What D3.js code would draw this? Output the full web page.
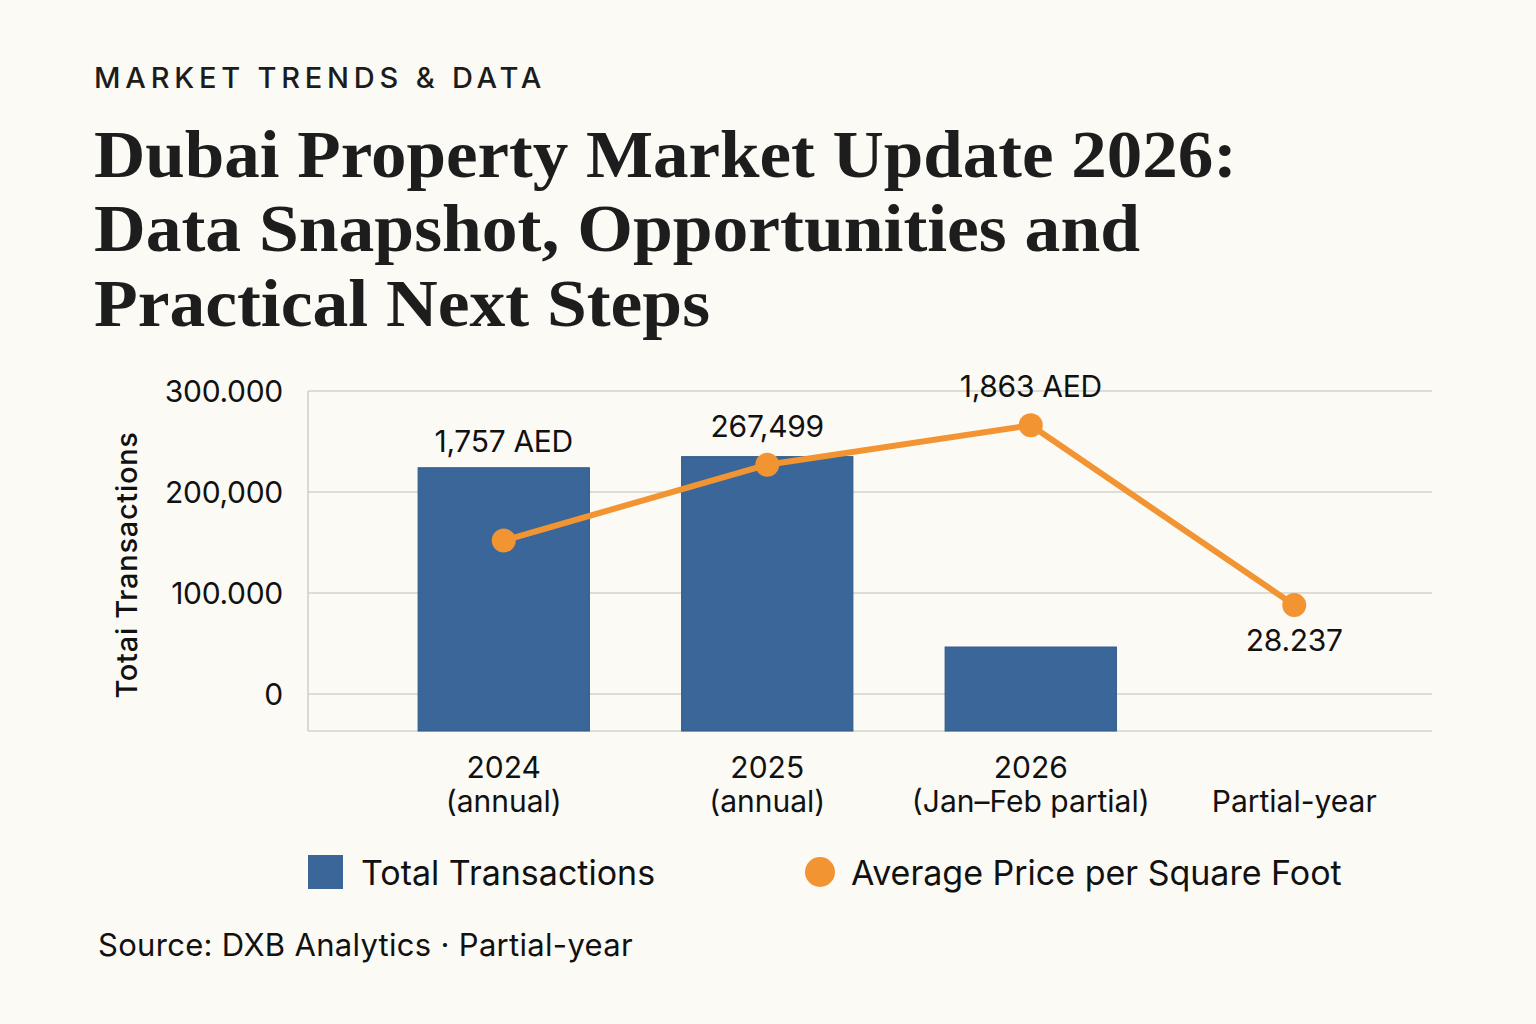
<!DOCTYPE html>
<html>
<head>
<meta charset="utf-8">
<script src="https://cdn.jsdelivr.net/npm/d3@7"></script>
<style>
  html, body { margin: 0; padding: 0; background: #fbfaf5; }
  svg { display: block; }
</style>
</head>
<body>
<script>
// chart values
const categories = ["2024", "2025", "2026", "Partial-year"];
const categoryLines = [["2024", "(annual)"], ["2025", "(annual)"], ["2026", "(Jan\u2013Feb partial)"], ["", "Partial-year"]];
const transactions = [224000, 235000, 46500, null];
const pricePlotted = [152000, 227000, 266000, 88000];
const pointLabels = ["1,757 AED", "267,499", "1,863 AED", "28.237"];
const yTicks = [0, 100000, 200000, 300000];
const yTickLabels = ["0", "100.000", "200,000", "300.000"];

const width = 1536;
const height = 1024;
const sans = "Inter, 'Noto Sans', sans-serif";
const serif = "'Liberation Serif', 'DejaVu Serif', serif";
const blue = "#3a6699";
const orange = "#f29431";

const svg = d3.select("body").append("svg")
    .attr("width", width)
    .attr("height", height);

svg.append("rect").attr("width", width).attr("height", height).attr("fill", "#fbfaf5");

// heading
svg.append("text")
    .attr("x", 94).attr("y", 88)
    .attr("font-family", sans).attr("font-size", 29).attr("font-weight", 500)
    .attr("letter-spacing", 4.8).attr("fill", "#1c1c1c")
    .text("MARKET TRENDS & DATA");

const titleLines = [
    ["Dubai Property Market Update 2026:", 177, 1143],
    ["Data Snapshot, Opportunities and", 251, 1046],
    ["Practical Next Steps", 326, 616]
];
titleLines.forEach(([txt, y, w]) => {
    svg.append("text")
        .attr("x", 94).attr("y", y)
        .attr("font-family", serif).attr("font-size", 68).attr("font-weight", 700)
        .attr("fill", "#1d1d1d")
        .attr("textLength", w).attr("lengthAdjust", "spacingAndGlyphs")
        .text(txt);
});

// plot area
const plotLeft = 308, plotRight = 1432, plotTop = 391, plotBottom = 731;

const x = d3.scaleBand()
    .domain(categories)
    .range([372, 1426])
    .paddingInner(0.35)
    .paddingOuter(0.175);

const y = d3.scaleLinear()
    .domain([0, 300000])
    .range([694, plotTop]);

// gridlines
svg.append("g")
    .selectAll("line")
    .data(yTicks)
    .join("line")
    .attr("x1", plotLeft).attr("x2", plotRight)
    .attr("y1", d => y(d)).attr("y2", d => y(d))
    .attr("stroke", "#d3d2cd").attr("stroke-width", 1.5);

svg.append("line")
    .attr("x1", plotLeft).attr("x2", plotRight)
    .attr("y1", plotBottom).attr("y2", plotBottom)
    .attr("stroke", "#d3d2cd").attr("stroke-width", 1.5);

svg.append("line")
    .attr("x1", plotLeft).attr("x2", plotLeft)
    .attr("y1", plotTop).attr("y2", plotBottom)
    .attr("stroke", "#cfcec9").attr("stroke-width", 1.5);

// y axis labels
svg.append("g")
    .selectAll("text")
    .data(yTicks)
    .join("text")
    .attr("x", 283)
    .attr("y", d => y(d) + 11)
    .attr("text-anchor", "end")
    .attr("font-family", sans).attr("font-size", 30)
    .attr("letter-spacing", -0.3)
    .attr("fill", "#111")
    .text((d, i) => yTickLabels[i]);

svg.append("text")
    .attr("transform", `translate(137, 565) rotate(-90)`)
    .attr("text-anchor", "middle")
    .attr("font-family", sans).attr("font-size", 29).attr("font-weight", 500)
    .attr("letter-spacing", 0.7)
    .attr("fill", "#111")
    .text("Totai Transactions");

// bars
svg.append("g")
    .selectAll("rect")
    .data(categories.map((c, i) => ({ c, v: transactions[i] })).filter(d => d.v != null))
    .join("rect")
    .attr("x", d => x(d.c))
    .attr("width", x.bandwidth())
    .attr("y", d => y(d.v))
    .attr("height", d => plotBottom - y(d.v))
    .attr("fill", blue)
    .attr("stroke", "#2f5886").attr("stroke-width", 1);

// price line
const pts = categories.map((c, i) => [x(c) + x.bandwidth() / 2, y(pricePlotted[i])]);
svg.append("path")
    .attr("d", d3.line()(pts))
    .attr("fill", "none")
    .attr("stroke", orange)
    .attr("stroke-width", 6)
    .attr("stroke-linejoin", "round");

svg.append("g")
    .selectAll("circle")
    .data(pts)
    .join("circle")
    .attr("cx", d => d[0]).attr("cy", d => d[1])
    .attr("r", 12)
    .attr("fill", orange);

// point labels
const labelOffset = [-16, -20, -28, 46];
svg.append("g")
    .selectAll("text")
    .data(categories)
    .join("text")
    .attr("x", (c, i) => pts[i][0])
    .attr("y", (c, i) => {
        const top = i === 3 ? pts[i][1] : Math.min(pts[i][1], transactions[i] != null ? y(transactions[i]) : Infinity);
        return top + labelOffset[i];
    })
    .attr("text-anchor", "middle")
    .attr("font-family", sans).attr("font-size", 30)
    .attr("letter-spacing", -0.3)
    .attr("fill", "#111")
    .text((c, i) => pointLabels[i]);

// x axis labels
const xl = svg.append("g");
categories.forEach((c, i) => {
    categoryLines[i].forEach((line, j) => {
        xl.append("text")
            .attr("x", x(c) + x.bandwidth() / 2)
            .attr("y", 778 + j * 34)
            .attr("text-anchor", "middle")
            .attr("font-family", sans).attr("font-size", 30)
            .attr("letter-spacing", 0)
            .attr("fill", "#111")
            .text(line);
    });
});

// legend
svg.append("rect")
    .attr("x", 308).attr("y", 855).attr("width", 35).attr("height", 34)
    .attr("fill", blue);
svg.append("text")
    .attr("x", 361).attr("y", 885)
    .attr("font-family", sans).attr("font-size", 34)
    .attr("letter-spacing", 0)
    .attr("fill", "#111")
    .text("Total Transactions");
svg.append("circle")
    .attr("cx", 820).attr("cy", 872).attr("r", 15)
    .attr("fill", orange);
svg.append("text")
    .attr("x", 851).attr("y", 885)
    .attr("font-family", sans).attr("font-size", 34)
    .attr("letter-spacing", 0)
    .attr("fill", "#111")
    .text("Average Price per Square Foot");

// source
svg.append("text")
    .attr("x", 98).attr("y", 956)
    .attr("font-family", sans).attr("font-size", 31)
    .attr("letter-spacing", 0.3)
    .attr("fill", "#111")
    .text("Source: DXB Analytics \u00b7 Partial-year");
</script>
</body>
</html>
